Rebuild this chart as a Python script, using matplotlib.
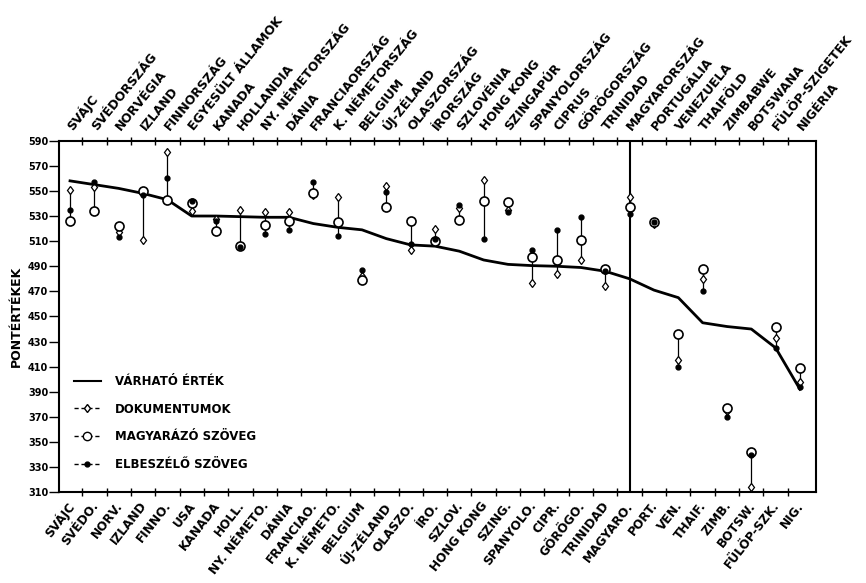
import numpy as np
import matplotlib
matplotlib.use("Agg")
import matplotlib.pyplot as plt
from matplotlib.lines import Line2D
import matplotlib.transforms as mtransforms

plt.rcParams['font.family'] = ['DejaVu Sans']

short_labels = ["SVÁJC", "SVÉDO.", "NORV.", "IZLAND", "FINNO.", "USA", "KANADA", "HOLL.",
                "NY. NÉMETO.", "DÁNIA", "FRANCIAO.", "K. NÉMETO.", "BELGIUM", "ÚJ-ZÉLAND",
                "OLASZO.", "ÍRO.", "SZLOV.", "HONG KONG", "SZING.", "SPANYOLO.", "CIPR.",
                "GÖRÖGO.", "TRINIDAD", "MAGYARO.", "PORT.", "VEN.", "THAIF.", "ZIMB.",
                "BOTSW.", "FÜLÖP-SZK.", "NIG."]
full_labels = ["SVÁJC", "SVÉDORSZÁG", "NORVÉGIA", "IZLAND", "FINNORSZÁG", "EGYESÜLT ÁLLAMOK",
               "KANADA", "HOLLANDIA", "NY. NÉMETORSZÁG", "DÁNIA", "FRANCIAORSZÁG",
               "K. NÉMETORSZÁG", "BELGIUM", "ÚJ-ZÉLAND", "OLASZORSZÁG", "ÍRORSZÁG",
               "SZLOVÉNIA", "HONG KONG", "SZINGAPÚR", "SPANYOLORSZÁG", "CIPRUS",
               "GÖRÖGORSZÁG", "TRINIDAD", "MAGYARORSZÁG", "PORTUGÁLIA", "VENEZUELA",
               "THAIFÖLD", "ZIMBABWE", "BOTSWANA", "FÜLÖP-SZIGETEK", "NIGÉRIA"]

expected = [558, 555, 552, 548, 543, 530, 530, 529.5, 529, 529, 524, 521, 519, 512, 507,
            506, 502, 495, 491.5, 490.5, 490, 489, 486, 480, 471, 465, 445, 442, 440, 425, 392]
documents = [551, 553, 517, 511, 581, 534, 528, 535, 533, 533, 547, 545, 482, 554, 503,
             520, 536, 559, 535, 477, 484, 495, 474, 545, 524, 415, 480, 375, 314, 433, 398]
explanatory = [526, 534, 522, 550, 543, 540, 518, 506, 523, 526, 548, 525, 479, 537, 526,
               510, 527, 542, 541, 497, 495, 511, 488, 537, 525, 436, 488, 377, 342, 442, 409]
narrative = [535, 557, 513, 547, 560, 542, 526, 505, 516, 519, 557, 514, 487, 549, 508,
             512, 539, 512, 533, 503, 519, 529, 486, 532, 525, 410, 470, 370, 340, 425, 394]

hungary = "MAGYARO."
y_ticks = list(range(310, 591, 20))

fig = plt.figure(figsize=(8.66, 5.83), dpi=100)
ax = fig.add_axes([0.0685, 0.1556, 0.8738, 0.6031])

x = np.arange(len(short_labels))
lo = np.minimum(np.minimum(documents, explanatory), narrative)
hi = np.maximum(np.maximum(documents, explanatory), narrative)
ax.vlines(x, lo, hi, colors='black', linewidth=0.9, zorder=2)

ax.plot(x, expected, color='black', linewidth=2.0, zorder=3)
ax.plot(x, documents, linestyle='none', marker='d', markersize=4.5, markerfacecolor='white',
        markeredgecolor='black', markeredgewidth=0.9, zorder=4)
ax.plot(x, explanatory, linestyle='none', marker='o', markersize=6.5, markerfacecolor='white',
        markeredgecolor='black', markeredgewidth=1.2, zorder=5)
ax.plot(x, narrative, linestyle='none', marker='o', markersize=3.5, markerfacecolor='black',
        markeredgecolor='black', zorder=6)

hx = short_labels.index(hungary)
ax.axvline(hx, color='black', linewidth=1.5, zorder=1)

ax.set_xlim(-0.44, 30.66)
ax.set_ylim(310, 590)
ax.set_yticks(y_ticks)
ax.set_yticklabels([str(v) for v in y_ticks], fontsize=7, fontweight='bold')
ax.tick_params(axis='y', direction='out', length=7, width=1.0, pad=1)

ax.set_xticks(np.arange(len(short_labels) - 1) + 0.5)
ax.set_xticklabels([])
ax.tick_params(axis='x', which='both', direction='inout', length=6, width=1.0,
               top=True, bottom=True)

for sp in ax.spines.values():
    sp.set_linewidth(1.5)

ax.set_ylabel("PONTÉRTÉKEK", fontsize=9, fontweight='bold', labelpad=4)

trans = mtransforms.blended_transform_factory(ax.transData, ax.transAxes)
for i, lab in enumerate(full_labels):
    ax.text(i + 0.1, 1.027, lab, transform=trans, rotation=51, rotation_mode='anchor',
            ha='left', va='baseline', fontsize=9, fontweight='bold')
for i, lab in enumerate(short_labels):
    ax.text(i - 0.15, -0.02, lab, transform=trans, rotation=52, rotation_mode='anchor',
            ha='right', va='top', fontsize=8.7, fontweight='bold')

handles = [
    Line2D([0], [0], color='black', linewidth=1.5),
    Line2D([0], [0], color='black', linewidth=1.0, linestyle=(0, (3, 2)), marker='d',
           markersize=4.5, markerfacecolor='white', markeredgecolor='black'),
    Line2D([0], [0], color='black', linewidth=1.0, linestyle=(0, (3, 2)), marker='o',
           markersize=6, markerfacecolor='white', markeredgecolor='black'),
    Line2D([0], [0], color='black', linewidth=1.0, linestyle=(0, (3, 2)), marker='o',
           markersize=3.5, markerfacecolor='black', markeredgecolor='black'),
]
labels = ["VÁRHATÓ ÉRTÉK", "DOKUMENTUMOK", "MAGYARÁZÓ SZÖVEG", "ELBESZÉLŐ SZÖVEG"]
ax.legend(handles, labels, loc='lower left', bbox_to_anchor=(0.005, 0.03), frameon=False,
          handlelength=2.3, labelspacing=1.25, handletextpad=1.2,
          prop={'size': 8.5, 'weight': 'bold'})

fig.savefig("out.png", dpi=100)
